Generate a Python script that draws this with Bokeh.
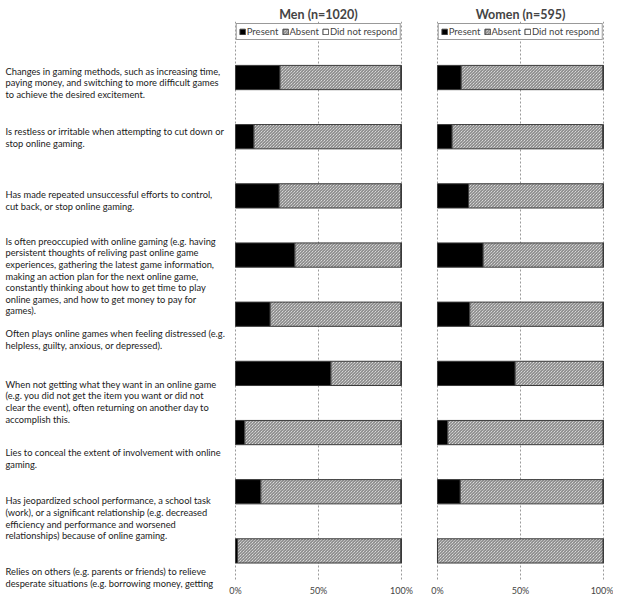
import pandas as pd
from bokeh.plotting import figure
from bokeh.models import ColumnDataSource, Range1d, Legend, LegendItem, FixedTicker, Label
from bokeh.layouts import row
from bokeh.embed import file_html
from bokeh.resources import INLINE

# ---------------- data ----------------
items = ["C1", "C2", "C3", "C4", "C5", "C6", "C7", "C8", "C9"]
criteria_lines = [
    ["Changes in gaming methods, such as increasing time,",
     "paying money, and switching to more difficult games",
     "to achieve the desired excitement."],
    ["Is restless or irritable when attempting to cut down or",
     "stop online gaming."],
    ["Has made repeated unsuccessful efforts to control,",
     "cut back, or stop online gaming."],
    ["Is often preoccupied with online gaming (e.g. having",
     "persistent thoughts of reliving past online game",
     "experiences, gathering the latest game information,",
     "making an action plan for the next online game,",
     "constantly thinking about how to get time to play",
     "online games, and how to get money to pay for",
     "games)."],
    ["Often plays online games when feeling distressed (e.g.",
     "helpless, guilty, anxious, or depressed)."],
    ["When not getting what they want in an online game",
     "(e.g. you did not get the item you want or did not",
     "clear the event), often returning on another day to",
     "accomplish this."],
    ["Lies to conceal the extent of involvement with online",
     "gaming."],
    ["Has jeopardized school performance, a school task",
     "(work), or a significant relationship (e.g. decreased",
     "efficiency and performance and worsened",
     "relationships) because of online gaming."],
    ["Relies on others (e.g. parents or friends) to relieve",
     "desperate situations (e.g. borrowing money, getting"],
]
men_present = [26.8, 11.1, 26.3, 35.8, 20.9, 57.5, 5.6, 15.3, 1.2]
men_dnr = [0.4, 0.3, 0.3, 0.3, 0.4, 0.3, 0.3, 0.5, 0.4]
women_present = [14.3, 8.8, 18.7, 27.5, 19.5, 46.8, 6.2, 13.7, 0.0]
women_dnr = [0.3, 0.5, 0.2, 0.2, 0.3, 0.2, 0.2, 0.3, 0.2]
tick_values = [0, 50, 100]
tick_labels = ["0%", "50%", "100%"]
series_names = ["Present", "Absent", "Did not respond"]

# ---------------- layout constants ----------------
H = 601
TOP = 21          # canvas px above the bar frames
BOTTOM = 21       # canvas px below the bar frames
FONT = "Lato"
first_line_y = [70.7, 131, 194, 240.7, 333, 383.7, 452, 500.3, 571.3]  # canvas px
LINE_GAP = 11.6


def text_panel():
    t = figure(width=228, height=H, x_range=Range1d(0, 228),
               y_range=Range1d(H, 0),
               output_backend="svg", toolbar_location=None, min_border=0)
    t.frame_align = False
    t.axis.visible = False
    t.grid.visible = False
    t.outline_line_color = None
    for lines, y0 in zip(criteria_lines, first_line_y):
        for i, ln in enumerate(lines):
            t.add_layout(Label(x=5, y=y0 + i * LINE_GAP, text=ln,
                               text_font=FONT, text_font_size="9.3px",
                               text_baseline="middle", text_align="left",
                               text_color="#1a1a1a"))
    return t


def bar_panel(title, present, dnr, left_b, right_b, width):
    df = pd.DataFrame({"item": items, "present": present, "dnr": dnr})
    df["pos"] = range(len(items))
    df["absent"] = 100 - df["present"] - df["dnr"]
    df["p0"] = 0.0
    df["p1"] = df["present"]
    df["a1"] = df["p1"] + df["absent"]
    df["d1"] = df["a1"] + df["dnr"]
    src = ColumnDataSource(df)

    n = len(items)
    p = figure(width=width, height=H, x_range=Range1d(-0.6, 100.6),
               y_range=Range1d(n - 0.5, -0.947),
               output_backend="svg", toolbar_location=None,
               min_border_left=left_b, min_border_right=right_b,
               min_border_top=TOP, min_border_bottom=BOTTOM, title=title)
    p.title.text_font = FONT
    p.title.text_font_size = "12.5px"
    p.title.text_font_style = "bold"
    p.title.align = "center"
    p.title.standoff = 0
    p.title.offset = 0
    p.outline_line_color = None
    p.yaxis.visible = False
    p.ygrid.visible = False
    p.xgrid.ticker = FixedTicker(ticks=tick_values)
    p.xgrid.grid_line_color = "#9a9a9a"
    p.xgrid.grid_line_dash = "2 2"
    p.xaxis.ticker = FixedTicker(ticks=tick_values)
    p.xaxis.major_label_overrides = dict(zip(tick_values, tick_labels))
    p.xaxis.axis_line_color = None
    p.xaxis.major_tick_line_color = None
    p.xaxis.minor_tick_line_color = None
    p.xaxis.major_tick_in = 0
    p.xaxis.major_tick_out = 0
    p.xaxis.minor_tick_in = 0
    p.xaxis.minor_tick_out = 0
    p.xaxis.major_label_text_font = FONT
    p.xaxis.major_label_text_font_size = "9px"
    p.xaxis.major_label_text_color = "#444444"
    p.xaxis.major_label_standoff = 4

    h = 0.41
    r1 = p.hbar(y="pos", left="p0", right="p1", height=h, source=src,
                fill_color="black", line_color="#3a3a3a", line_width=1)
    r2 = p.hbar(y="pos", left="p1", right="a1", height=h, source=src,
                fill_color="white", hatch_pattern="\\", hatch_color="#5a5a5a",
                hatch_scale=3, hatch_weight=0.9, line_color="#3a3a3a", line_width=1)
    r3 = p.hbar(y="pos", left="a1", right="d1", height=h, source=src,
                fill_color="white", line_color="#3a3a3a", line_width=1)

    legend = Legend(items=[LegendItem(label=nm, renderers=[r]) for nm, r in zip(series_names, [r1, r2, r3])],
                    orientation="horizontal", location="top_center",
                    label_text_font=FONT, label_text_font_size="9.5px",
                    glyph_width=7, glyph_height=7, label_standoff=1, spacing=3,
                    padding=2, margin=2, border_line_color="#333333",
                    label_height=9, background_fill_alpha=1.0)
    p.add_layout(legend)
    return p


t = text_panel()
men = bar_panel("Men (n=1020)", men_present, men_dnr, 6, 17, 191)
women = bar_panel("Women (n=595)", women_present, women_dnr, 17, 9, 194)
layout = row(t, men, women)

open("out.html", "w").write(file_html(layout, INLINE))
